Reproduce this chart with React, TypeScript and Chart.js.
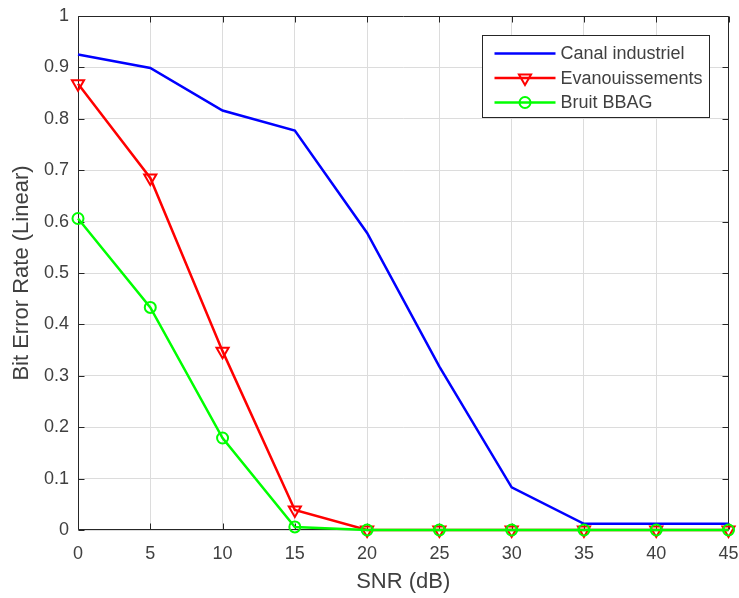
import React, { useEffect, useRef } from "react";
import { Chart, registerables } from "chart.js";

Chart.register(...registerables);

const snr = [0, 5, 10, 15, 20, 25, 30, 35, 40, 45];
const canalIndustriel = [0.925, 0.899, 0.816, 0.777, 0.578, 0.318, 0.083, 0.012, 0.012, 0.012];
const evanouissements = [0.868, 0.685, 0.348, 0.039, 0, 0, 0, 0, 0, 0];
const bruitBBAG = [0.606, 0.433, 0.179, 0.006, 0, 0, 0, 0, 0, 0];
const seriesLabels = ["Canal industriel", "Evanouissements", "Bruit BBAG"];
const xTitle = "SNR (dB)";
const yTitle = "Bit Error Rate (Linear)";

const FONT = "'Liberation Sans', Arial, Helvetica, sans-serif";
const AXIS = "#262626";
const TEXT = "#404040";

function drawMarker(ctx: CanvasRenderingContext2D, style: string, x: number, y: number, r: number, color: string) {
  ctx.save();
  ctx.strokeStyle = color;
  ctx.lineWidth = 2;
  ctx.beginPath();
  if (style === "circle") {
    ctx.arc(x, y, r, 0, Math.PI * 2);
  } else if (style === "triangle") {
    let rad = Math.PI;
    for (let i = 0; i < 3; i++) {
      const px = x + Math.sin(rad) * r;
      const py = y - Math.cos(rad) * r;
      if (i === 0) ctx.moveTo(px, py);
      else ctx.lineTo(px, py);
      rad += (2 * Math.PI) / 3;
    }
    ctx.closePath();
  }
  ctx.stroke();
  ctx.restore();
}

const matlabPlugin = {
  id: "matlabStyle",
  beforeDatasetsDraw(chart: any) {
    const { ctx, chartArea: a, scales } = chart;
    const L = Math.round(a.left) + 0.5;
    const R = Math.round(a.right) - 0.5;
    const T = Math.round(a.top) + 0.5;
    const B = Math.round(a.bottom) - 0.5;
    ctx.save();
    ctx.strokeStyle = AXIS;
    ctx.lineWidth = 1;
    ctx.beginPath();
    ctx.rect(L, T, R - L, B - T);
    const tl = 6;
    scales.x.ticks.forEach((t: any) => {
      const px = Math.round(scales.x.getPixelForValue(t.value)) + 0.5;
      ctx.moveTo(px, B);
      ctx.lineTo(px, B - tl);
      ctx.moveTo(px, T);
      ctx.lineTo(px, T + tl);
    });
    scales.y.ticks.forEach((t: any) => {
      const py = Math.round(scales.y.getPixelForValue(t.value)) + 0.5;
      ctx.moveTo(L, py);
      ctx.lineTo(L + tl, py);
      ctx.moveTo(R, py);
      ctx.lineTo(R - tl, py);
    });
    ctx.stroke();
    ctx.restore();
  },
  afterDraw(chart: any) {
    const { ctx, chartArea: a } = chart;
    ctx.save();
    // axis titles
    ctx.fillStyle = TEXT;
    ctx.font = `22px ${FONT}`;
    ctx.textAlign = "center";
    ctx.textBaseline = "middle";
    ctx.fillText(xTitle, (a.left + a.right) / 2, a.bottom + 52);
    ctx.save();
    ctx.translate(a.left - 56, (a.top + a.bottom) / 2);
    ctx.rotate(-Math.PI / 2);
    ctx.fillText(yTitle, 0, 0);
    ctx.restore();

    // legend
    ctx.font = `18px ${FONT}`;
    const datasets = chart.data.datasets;
    let maxW = 0;
    datasets.forEach((d: any) => {
      maxW = Math.max(maxW, ctx.measureText(d.label).width);
    });
    const padL = 12, sampleW = 61, gap = 5, padR = 6.5;
    const w = Math.round(padL + sampleW + gap + maxW + padR);
    const h = 82;
    const right = Math.round(a.right) - 19.5;
    const top = Math.round(a.top) + 19.5;
    const left = right - w;
    ctx.fillStyle = "#ffffff";
    ctx.fillRect(left, top, w, h);
    ctx.strokeStyle = AXIS;
    ctx.lineWidth = 1;
    ctx.strokeRect(left, top, w, h);
    datasets.forEach((d: any, i: number) => {
      const cy = top + 18 + i * 24.5;
      const x0 = left + padL;
      ctx.strokeStyle = d.borderColor;
      ctx.lineWidth = d.borderWidth;
      ctx.beginPath();
      ctx.moveTo(x0, cy);
      ctx.lineTo(x0 + sampleW, cy);
      ctx.stroke();
      if (d.pointRadius > 0) {
        drawMarker(ctx, d.pointStyle, x0 + sampleW / 2, cy, d.pointRadius, d.borderColor);
      }
      ctx.fillStyle = TEXT;
      ctx.textAlign = "left";
      ctx.textBaseline = "middle";
      ctx.fillText(d.label, x0 + sampleW + gap, cy + 1);
    });
    ctx.restore();
  },
};

export default function App() {
  const ref = useRef<HTMLCanvasElement>(null);
  useEffect(() => {
    document.body.style.margin = "0";
    const toPts = (ys: number[]) => snr.map((x, i) => ({ x, y: ys[i] }));
    const chart = new Chart(ref.current as HTMLCanvasElement, {
      type: "line",
      data: {
        datasets: [
          {
            label: seriesLabels[0],
            data: toPts(canalIndustriel),
            borderColor: "#0000ff",
            backgroundColor: "rgba(0,0,0,0)",
            borderWidth: 2.5,
            pointRadius: 0,
            pointStyle: "circle",
            order: 2,
            clip: false as any,
          },
          {
            label: seriesLabels[1],
            data: toPts(evanouissements),
            borderColor: "#ff0000",
            backgroundColor: "rgba(0,0,0,0)",
            borderWidth: 2.5,
            pointRadius: 7,
            pointStyle: "triangle",
            rotation: 180,
            pointBorderWidth: 2,
            pointBackgroundColor: "rgba(0,0,0,0)",
            order: 1,
            clip: false as any,
          },
          {
            label: seriesLabels[2],
            data: toPts(bruitBBAG),
            borderColor: "#00ff00",
            backgroundColor: "rgba(0,0,0,0)",
            borderWidth: 2.5,
            pointRadius: 5.5,
            pointStyle: "circle",
            pointBorderWidth: 2,
            pointBackgroundColor: "rgba(0,0,0,0)",
            order: 0,
            clip: false as any,
          },
        ],
      },
      options: {
        responsive: false,
        animation: false,
        devicePixelRatio: 1,
        layout: { padding: { left: 0, top: 16, right: 10.5, bottom: 0 } },
        plugins: { legend: { display: false }, tooltip: { enabled: false } },
        elements: { line: { tension: 0 } },
        scales: {
          x: {
            type: "linear",
            min: 0,
            max: 45,
            border: { display: false },
            grid: { color: "#dcdcdc", drawTicks: false, lineWidth: 1 },
            ticks: { stepSize: 5, padding: 13, color: TEXT, font: { family: FONT, size: 18 } },
            afterFit: (s: any) => {
              s.height = 68;
              s.paddingLeft = 0;
              s.paddingRight = 0;
              s.paddingTop = 0;
              s.paddingBottom = 0;
            },
          },
          y: {
            type: "linear",
            min: 0,
            max: 1,
            border: { display: false },
            grid: { color: "#dcdcdc", drawTicks: false, lineWidth: 1 },
            ticks: {
              stepSize: 0.1,
              padding: 9,
              color: TEXT,
              font: { family: FONT, size: 18 },
              callback: (v: any) => String(parseFloat(Number(v).toFixed(2))),
            },
            afterFit: (s: any) => {
              s.width = 78;
              s.paddingLeft = 0;
              s.paddingRight = 0;
              s.paddingTop = 0;
              s.paddingBottom = 0;
            },
          },
        },
      },
      plugins: [matlabPlugin],
    });
    return () => chart.destroy();
  }, []);
  return <canvas ref={ref} width={739} height={598} style={{ display: "block" }} />;
}
